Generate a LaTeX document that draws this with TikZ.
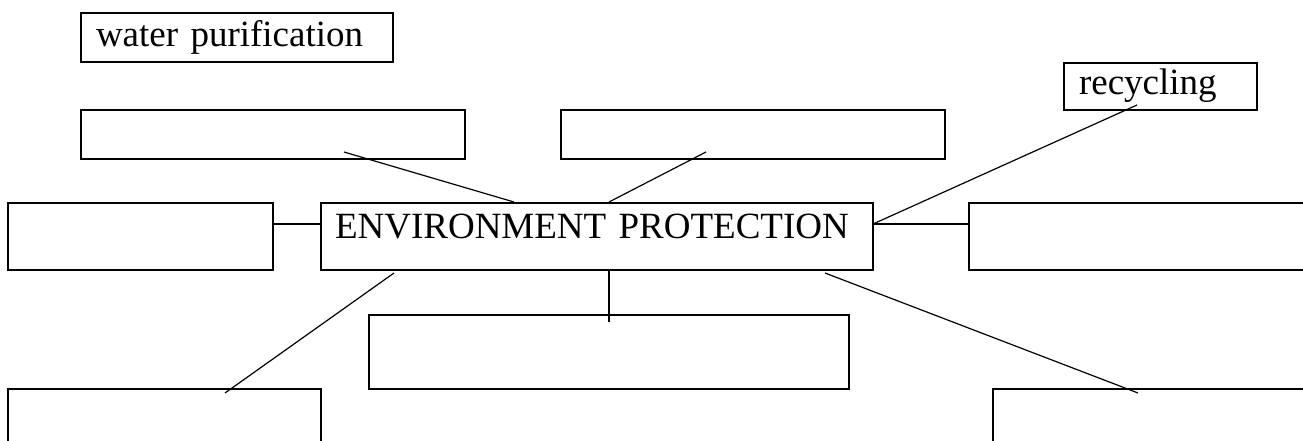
\documentclass[tikz,border=0pt]{standalone}
\usepackage{fontspec}
\setmainfont{Liberation Serif}
\usetikzlibrary{calc}
\begin{document}
\begin{tikzpicture}[x=1pt,y=-1pt,
  box/.style={draw, line width=1.4pt, inner sep=0pt, outer sep=0pt, anchor=north west},
  tbox/.style={box, align=left, font=\fontsize{37}{40}\selectfont},
  conn/.style={line width=1.2pt}]
\clip (0,0) rectangle (1303,441);
\fill[white] (0,0) rectangle (1303,441);
% boxes
\node[tbox, inner xsep=15pt, text width=282pt, text height=34pt, text depth=15pt] (wp) at (81,13) {water purification};
\node[box, minimum width=384pt, minimum height=49pt] (tl) at (81,110) {};
\node[box, minimum width=384pt, minimum height=49pt] (tm) at (561,110) {};
\node[tbox, inner xsep=15pt, text width=163pt, text height=32pt, text depth=15pt] (rec) at (1064,63) {recycling};
\node[box, minimum width=265pt, minimum height=67pt] (lm) at (8,203) {};
\node[tbox, inner xsep=14pt, text width=524pt, text height=35pt, text depth=32pt] (env) at (321,203) {ENVIRONMENT PROTECTION};
\node[box, minimum width=360pt, minimum height=67pt] (rm) at (969,203) {};
\node[box, minimum width=480pt, minimum height=74pt] (bm) at (369,315) {};
\node[box, minimum width=313pt, minimum height=80pt] (bl) at (8,389) {};
\node[box, minimum width=340pt, minimum height=80pt] (br) at (993,389) {};
% connectors
\draw[conn] ($(lm.north east)+(0,21)$) -- ($(env.north west)+(0,21)$);
\draw[conn] ($(env.north east)+(0,21)$) -- ($(rm.north west)+(0,21)$);
\draw[conn] ($(env.north east)+(0,21)$) -- ($(rec.south west)+(73,-5)$);
\draw[conn] ($(tl.south west)+(263,-7)$) -- ($(env.north west)+(193,-1)$);
\draw[conn] ($(tm.south west)+(145,-7)$) -- ($(env.north west)+(288,-1)$);
\draw[conn] ($(env.south west)+(73,3)$) -- ($(bl.north west)+(217,4)$);
\draw[conn] ($(env.south west)+(504,3)$) -- ($(br.north west)+(145,4)$);
\draw[conn] ($(env.south west)+(288,0)$) -- ($(bm.north west)+(240,7)$);
\end{tikzpicture}
\end{document}
